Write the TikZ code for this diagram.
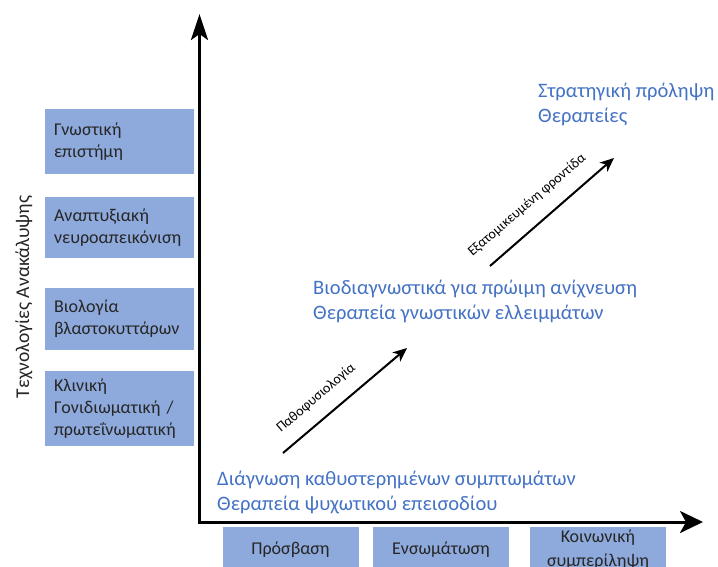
\documentclass[tikz,border=0pt]{standalone}
\usepackage{fontspec}
\setmainfont{Carlito}
\usetikzlibrary{arrows.meta}
\definecolor{boxblue}{RGB}{142,169,219}
\definecolor{txtblue}{RGB}{68,114,196}
\definecolor{txtdark}{RGB}{38,38,38}
\begin{document}
\begin{tikzpicture}[x=1pt,y=-1pt,
  lbox/.style={fill=boxblue,draw=none,minimum width=149pt,text width=131pt,align=left,inner xsep=9pt,font=\fontsize{18}{22}\selectfont,text=txtdark},
  bbox/.style={fill=boxblue,draw=none,minimum width=136pt,minimum height=50pt,align=center},
  btxt/.style={inner sep=0pt,text=txtdark,align=center,font=\fontsize{18}{24}\selectfont},
  bluetxt/.style={align=left,anchor=west,inner sep=0pt,text=txtblue,font=\fontsize{20.5}{25}\selectfont},
  axis/.style={line width=3pt},
  diag/.style={line width=2pt,-{Stealth[length=14pt,width=12pt,inset=4pt]}},
  dlabel/.style={inner sep=0pt,text=black,font=\fontsize{14}{16}\selectfont,rotate=40.5}]
\clip (0,0) rectangle (718,566);
\fill[white] (0,0) rectangle (718,566);
% left boxes
\node[lbox,minimum height=65pt] (b1) at (119.5,141.5) {Γνωστική\\επιστήμη};
\node[lbox,minimum height=61pt] (b2) at (119.5,227.5) {Αναπτυξιακή\\νευροαπεικόνιση};
\node[lbox,minimum height=62pt] (b3) at (119.5,319) {Βιολογία\\βλαστοκυττάρων};
\node[lbox,minimum height=75pt] (b4) at (119.5,408.5) {Κλινική\\Γονιδιωματική /\\πρωτεΐνωματική};
\node[rotate=90,inner sep=0pt,text=txtdark,font=\fontsize{19.5}{22}\selectfont] (ylab) at (24,297) {Τεχνολογίες Ανακάλυψης};
% bottom boxes
\node[bbox] (c1) at (290.5,552) {};
\node[bbox] (c2) at (441,552) {};
\node[bbox] (c3) at (598,552) {};
\node[btxt] (c1t) at (290.5,550) {Πρόσβαση};
\node[btxt] (c2t) at (441,550) {Ενσωμάτωση};
\node[btxt] (c3t) at (598,550) {Κοινωνική\\συμπερίληψη};
% axes
\coordinate (O) at (199.5,522);
\coordinate (ytop) at (199.5,14);
\coordinate (xend) at (703,522);
\draw[axis,-{Stealth[length=26pt,width=17pt,inset=6pt]}] (O) -- (ytop);
\draw[axis,-{Stealth[length=23pt,width=22pt,inset=6pt]}] ([xshift=-1.5pt]O) -- (xend);
% blue texts
\node[bluetxt] (t1) at (217,492) {Διάγνωση καθυστερημένων συμπτωμάτων\\Θεραπεία ψυχωτικού επεισοδίου};
\node[bluetxt] (t2) at (313,301) {Βιοδιαγνωστικά για πρώιμη ανίχνευση\\Θεραπεία γνωστικών ελλειμμάτων};
\node[bluetxt] (t3) at (538,104) {Στρατηγική πρόληψη\\Θεραπείες};
% diagonal arrows
\coordinate (a1s) at (283,453);
\coordinate (a1e) at (407,348);
\coordinate (a2s) at (490,266);
\coordinate (a2e) at (614,158);
\draw[diag] (a1s) -- (a1e);
\draw[diag] (a2s) -- (a2e);
\node[dlabel] (l1) at (316,398) {Παθοφυσιολογία};
\node[dlabel] (l2) at (527,205) {Εξατομικευμένη φροντίδα};
\end{tikzpicture}
\end{document}
